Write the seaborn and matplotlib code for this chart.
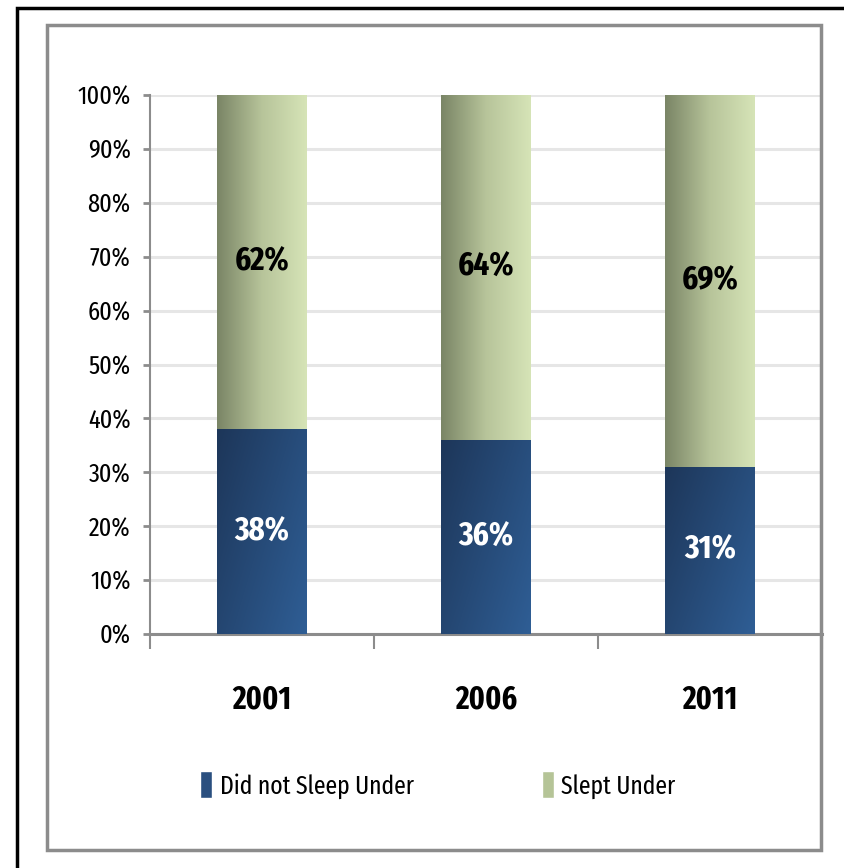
import numpy as np
import pandas as pd
import matplotlib
matplotlib.use("Agg")
import matplotlib.pyplot as plt
import seaborn as sns
from matplotlib.colors import LinearSegmentedColormap
from matplotlib.patches import Rectangle, Patch

# dados
years = ["2001", "2006", "2011"]
did_not_sleep = [38, 36, 31]
slept_under = [62, 64, 69]
series_names = ["Did not Sleep Under", "Slept Under"]
y_ticks = [0, 10, 20, 30, 40, 50, 60, 70, 80, 90, 100]

sns.set_style("white")
plt.rcParams["font.family"] = ["Fira Sans Extra Condensed", "DejaVu Sans"]
plt.rcParams["text.color"] = "black"
plt.rcParams["xtick.color"] = "black"
plt.rcParams["ytick.color"] = "black"

df = pd.DataFrame({"year": years, "did_not": did_not_sleep, "slept": slept_under})
df["total"] = df["did_not"] + df["slept"]

W, H = 844, 868
fig = plt.figure(figsize=(W / 100, H / 100), dpi=100)
ax = fig.add_axes([150 / W, 1 - 634 / H, (822 - 150) / W, (634 - 95) / H])

# barras empilhadas: total primeiro, depois a parte de baixo por cima
sns.barplot(data=df, x="year", y="total", width=0.4, color="#b5c497", ax=ax, zorder=2)
sns.barplot(data=df, x="year", y="did_not", width=0.4, color="#2a4f7f", ax=ax, zorder=3)

green_cmap = LinearSegmentedColormap.from_list("g", ["#7a8566", "#b7c49a", "#d6e4b7"])
blue_cmap = LinearSegmentedColormap.from_list("b", ["#1d3659", "#2f5e95"])

n = len(years)
for i, p in enumerate(ax.patches):
    x0, y0 = p.get_x(), p.get_y()
    w, h = p.get_width(), p.get_height()
    if i < n:
        grad = np.tile(np.linspace(0, 1, 200), (2, 1))
        cmap, z = green_cmap, 2
    else:
        gx, gy = np.meshgrid(np.linspace(0, 1, 100), np.linspace(0, 1, 200))
        grad = (gx * 0.6 + gy * 0.4)
        cmap, z = blue_cmap, 3
    im = ax.imshow(grad, extent=(x0, x0 + w, y0, y0 + h), origin="lower" if i < n else "upper",
                   aspect="auto", cmap=cmap, zorder=z, interpolation="bicubic")
    im.set_clip_path(p)
    p.set_facecolor("none")
    p.set_edgecolor("none")

# rótulos das barras
for i in range(n):
    ax.text(i, did_not_sleep[i] / 2, f"{did_not_sleep[i]}%", ha="center", va="center",
            color="white", fontsize=24, fontweight="bold", zorder=5)
    ax.text(i, did_not_sleep[i] + slept_under[i] / 2, f"{slept_under[i]}%", ha="center",
            va="center", color="black", fontsize=24, fontweight="bold", zorder=5)

ax.set_xlim(-0.5, n - 0.5)
ax.set_ylim(0, 100)
ax.set_yticks(y_ticks)
ax.set_yticklabels([f"{t}%" for t in y_ticks], fontsize=19)
ax.yaxis.grid(True, color="#e6e6e6", linewidth=2.2, zorder=0)
ax.set_axisbelow(True)
ax.tick_params(axis="y", length=5, width=2, color="#8c8c8c", pad=9, left=True)

ax.set_xticks(range(n))
ax.set_xticklabels(years, fontsize=23, fontweight="bold")
ax.tick_params(axis="x", which="major", length=0, pad=36)
ax.set_xticks(np.arange(-0.5, n, 1), minor=True)
ax.tick_params(axis="x", which="minor", length=11, width=1.5, color="#8c8c8c", direction="out", bottom=True)
ax.set_xlabel("")
ax.set_ylabel("")

for s in ["top", "right"]:
    ax.spines[s].set_visible(False)
ax.spines["left"].set_color("#8c8c8c")
ax.spines["left"].set_linewidth(1.5)
ax.spines["bottom"].set_color("#8c8c8c")
ax.spines["bottom"].set_linewidth(2.2)

# legenda
handles = [Patch(facecolor="#2a4f7f"), Patch(facecolor="#b5c497")]
fig.legend(handles, series_names, loc="center", bbox_to_anchor=(438 / W, 1 - 785 / H),
           ncol=2, frameon=False, fontsize=18.5, handlelength=0.45, handleheight=1.25,
           handletextpad=0.3, columnspacing=5.0)

# molduras
fig.patches.append(Rectangle((17 / W, -0.1), 1.2, 1 - 8 / H + 0.1, transform=fig.transFigure,
                             fill=False, edgecolor="black", linewidth=2.5))
fig.patches.append(Rectangle((47 / W, 1 - 850 / H), (821 - 47) / W, (850 - 25) / H,
                             transform=fig.transFigure, fill=False, edgecolor="#8c8c8c", linewidth=2.5))

fig.savefig("out.png", dpi=100)
